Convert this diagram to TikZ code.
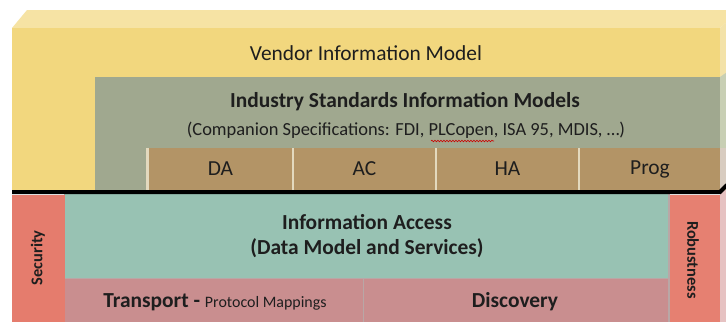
\documentclass[tikz,border=0pt]{standalone}
\usepackage{fontspec}
\setmainfont{Carlito}
\usetikzlibrary{decorations.pathmorphing}
\definecolor{yfront}{HTML}{F2D77E}
\definecolor{ytop}{HTML}{F6E3A4}
\definecolor{yside}{HTML}{F3E2A8}
\definecolor{gbox}{HTML}{A0A88F}
\definecolor{gside}{HTML}{C8CFB4}
\definecolor{brn}{HTML}{B39466}
\definecolor{bside}{HTML}{D8CCC0}
\definecolor{sepl}{HTML}{E3D9BE}
\definecolor{redc}{HTML}{E57C6D}
\definecolor{tealc}{HTML}{98C2B3}
\definecolor{pinkc}{HTML}{C98E8F}
\definecolor{pside}{HTML}{E6C2C2}
\definecolor{gapc}{HTML}{B9A7A6}
\definecolor{txt}{HTML}{1E1E1E}
\tikzset{
  blk/.style={rectangle, inner sep=0pt, outer sep=0pt, draw=none},
  lbl/.style={inner sep=0pt, text=txt, align=center},
  big/.style={font=\fontsize{21.5}{24}\selectfont},
  bigb/.style={font=\fontsize{21.5}{26}\selectfont\bfseries},
  sub/.style={font=\fontsize{18.5}{21}\selectfont},
  side/.style={font=\fontsize{16.5}{18}\selectfont\bfseries},
}
\begin{document}
\begin{tikzpicture}[x=1bp,y=-1bp]
\useasboundingbox (0,0) rectangle (726,322);
\fill[white] (0,0) rectangle (726,322);
% vendor box 3D faces
\fill[ytop] (12,28) -- (27,10) -- (740,10) -- (720,28) -- cycle;
\fill[yside] (720,28) -- (740,10) -- (740,192) -- (720,192) -- cycle;
\node[blk, fill=yfront, minimum width=708bp, minimum height=164bp] (vendor) at (366,110) {};
\node[lbl, big] (vendort) at (366,53) {Vendor Information Model};
% industry box
\fill[gside] (720,77) -- (730,70) -- (730,148) -- (720,148) -- cycle;
\node[blk, fill=gbox, minimum width=625bp, minimum height=115bp] (industry) at (407.5,134.5) {};
\node[lbl, bigb] (indt) at (405,102) {Industry Standards Information Models};
\node[lbl, sub] (indsub) at (406,130) {(Companion Specifications: FDI, PLCopen, ISA 95, MDIS, \dots)};
\draw[red!80!black, line width=0.6bp, decorate, decoration={snake, amplitude=0.8bp, segment length=3bp}] (431,141) -- (494,141);
% brown row
\fill[bside] (720,148) -- (730,148) -- (730,186) -- (720,190) -- cycle;
\fill[sepl] (146,148) rectangle (149,190);
\node[blk, fill=brn, minimum width=143bp, minimum height=42bp] (da) at (220.5,169) {};
\node[blk, fill=brn, minimum width=141bp, minimum height=42bp] (ac) at (364.5,169) {};
\node[blk, fill=brn, minimum width=141bp, minimum height=42bp] (ha) at (507.5,169) {};
\node[blk, fill=brn, minimum width=140bp, minimum height=42bp] (prog) at (650,169) {};
\fill[sepl] (292,148) rectangle (294,190);
\fill[sepl] (435,148) rectangle (437,190);
\fill[sepl] (578,148) rectangle (580,190);
\node[lbl, big] at (da) {DA};
\node[lbl, big] at (ac) {AC};
\node[lbl, big] at (ha) {HA};
\node[lbl, big] at (prog) {Prog};
% lower layer
\fill[gapc] (64,192) rectangle (670,322);
\fill[pside] (720,190) rectangle (726,322);
\node[blk, fill=redc, minimum width=53bp, minimum height=127bp] (security) at (38.5,258.5) {};
\node[lbl, side, rotate=90] at (38,258) {Security};
\node[blk, fill=tealc, minimum width=603bp, minimum height=84bp] (access) at (366.5,236) {};
\node[lbl, bigb] (acct) at (367,222) {Information Access};
\node[lbl, bigb] (acct2) at (367,248) {(Data Model and Services)};
\node[blk, fill=pinkc, minimum width=298bp, minimum height=43bp] (transport) at (214,300.5) {};
\node[lbl] at (215,302) {\fontsize{21.5}{24}\selectfont\bfseries Transport - \fontsize{16}{18}\mdseries\selectfont Protocol Mappings};
\node[blk, fill=pinkc, minimum width=304bp, minimum height=43bp] (discovery) at (516,300.5) {};
\node[lbl, bigb] at (515,302) {Discovery};
\node[blk, fill=redc!97!white, minimum width=50bp, minimum height=127bp] (robust) at (695,258.5) {};
\node[lbl, side, rotate=-90] at (693,260) {Robustness};
% thick black line
\coordinate (bl) at (12,192);
\coordinate (br) at (720,192);
\coordinate (bt) at (727,185);
\draw[line width=4bp, black] (bl) -- (br) -- (bt);
\end{tikzpicture}
\end{document}
